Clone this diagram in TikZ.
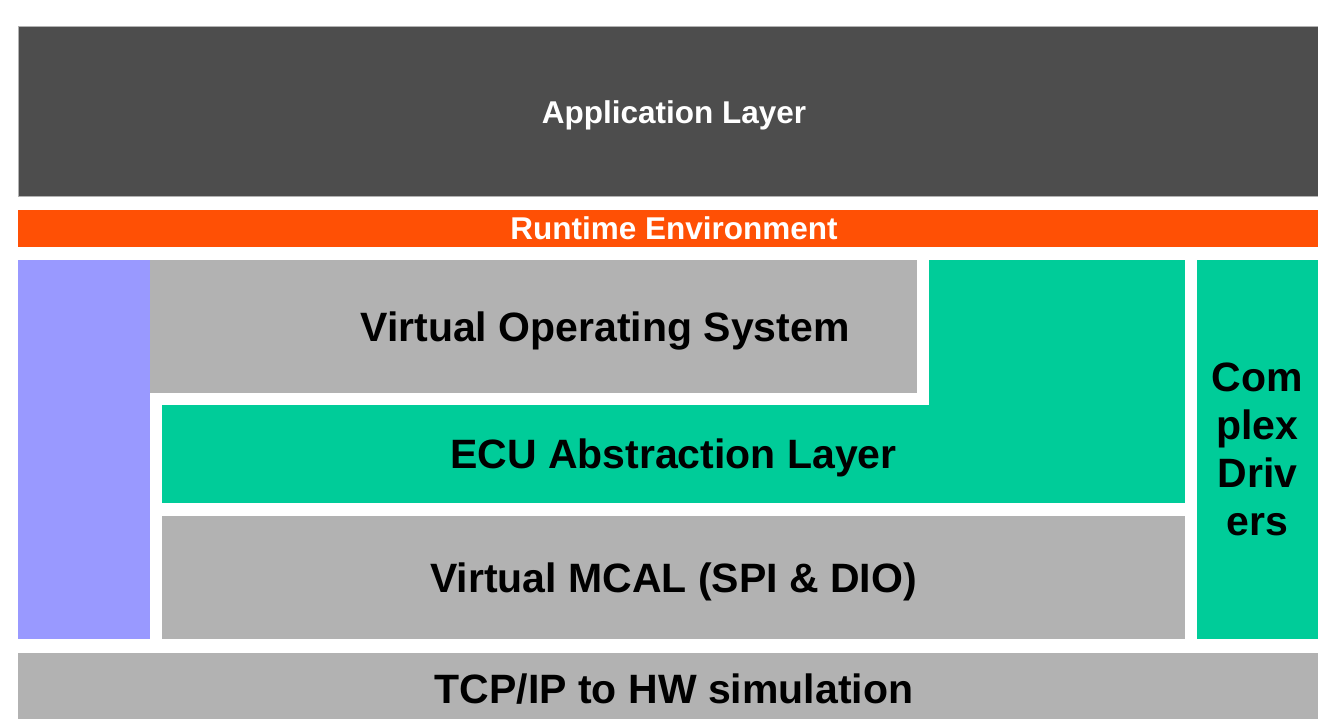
\documentclass[tikz,border=0pt]{standalone}
\usepackage{fontspec}
\setmainfont{Liberation Sans}
\usepackage{tikz}
\definecolor{appgrey}{RGB}{77,77,77}
\definecolor{rteorange}{RGB}{255,80,5}
\definecolor{lilac}{RGB}{153,153,255}
\definecolor{midgrey}{RGB}{178,178,178}
\definecolor{bswgreen}{RGB}{0,204,153}

\begin{document}
\begin{tikzpicture}[x=1pt,y=-1pt,
    layer/.style={rectangle,inner sep=0pt,align=center,text height=29.4pt,text depth=0pt,
      font=\bfseries\fontsize{41}{48}\selectfont},
    top/.style={layer,text=white,text height=22.6pt,font=\bfseries\fontsize{31.5}{36}\selectfont}]
  \useasboundingbox (0,0) rectangle (1318,719);
  \node (app) [top,fill=appgrey,draw=midgrey,line width=1pt,
    minimum width=1312pt,minimum height=170pt] at (674,112) {Application Layer};
  \node (rte) [top,fill=rteorange,minimum width=1312pt,minimum height=37pt]
    at (674,228.5) {Runtime Environment};
  \node (lib) [layer,fill=lilac,minimum width=132pt,minimum height=379pt] at (84,449.5) {};
  \node (vos) [layer,fill=midgrey,minimum width=767pt,minimum height=133pt] at (533.5,326.5) {};
  \node (vostext) [layer] at (605,326.5) {Virtual Operating System};
  \node (ecu) [layer,fill=bswgreen,minimum width=1023pt,minimum height=98pt]
    at (673.5,454) {ECU Abstraction Layer};
  \fill[bswgreen] (ecu.north east) rectangle (929,260);
  \node (mcal) [layer,fill=midgrey,minimum width=1023pt,minimum height=123pt]
    at (673.5,577.5) {Virtual MCAL (SPI \& DIO)};
  \node (cdd) [layer,fill=bswgreen,text height=,text depth=,
    minimum width=121pt,minimum height=379pt] at (1257.5,449.5) {Com\\plex\\Driv\\ers};
  \node (tcp) [layer,fill=midgrey,minimum width=1312pt,minimum height=71pt]
    at (674,688.5) {TCP/IP to HW simulation};
\end{tikzpicture}
\end{document}
